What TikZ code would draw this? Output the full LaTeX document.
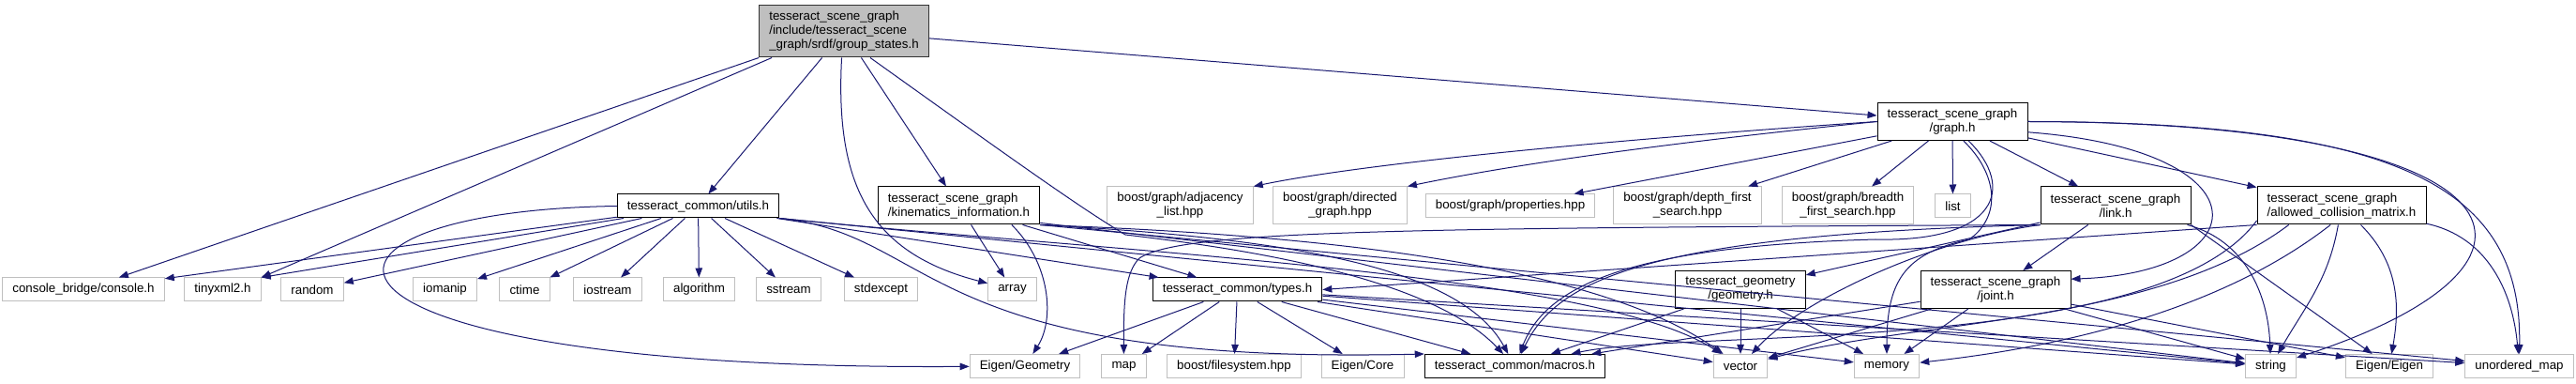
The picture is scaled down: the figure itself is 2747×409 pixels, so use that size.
\documentclass[tikz,border=0pt]{standalone}
\usepackage{fontspec}
\setmainfont{Liberation Sans}
\usepackage{xcolor}
\usetikzlibrary{arrows.meta}

\definecolor{edgeblue}{HTML}{191970}
\definecolor{grey75}{HTML}{BFBFBF}

\begin{document}
\begin{tikzpicture}[
  x=0.75pt, y=-0.75pt,
  >={Triangle[length=7.5pt,width=5.6pt]},
  box/.style={draw, line width=0.75pt, inner xsep=8pt, inner ysep=2pt,
    minimum height=18.75pt, font=\fontsize{10}{11.25}\selectfont, align=center},
  twoline/.style={minimum height=30pt},
  rootbox/.style={box, fill=grey75, draw=black!80, minimum height=41.25pt, align=left},
  incbox/.style={box, draw=black},
  extbox/.style={box, draw=grey75},
  dep/.style={->, color=edgeblue, line width=0.75pt},
]
\useasboundingbox (0,0) rectangle (2747,409);

% Root file
\node[rootbox] (groupstates) at (900,33.5)
  {tesseract\_scene\_graph\\/include/tesseract\_scene\\\_graph/srdf/group\_states.h};

% graph.h
\node[incbox, twoline] (graph) at (2082,129.5) {tesseract\_scene\_graph\\/graph.h};

% Second row
\node[incbox] (utils) at (744.5,219.5) {tesseract\_common/utils.h};
\node[incbox, twoline, align=left] (kininfo) at (1022.5,219)
  {tesseract\_scene\_graph\\/kinematics\_information.h};
\node[extbox, twoline] (adjlist) at (1258.5,219) {boost/graph/adjacency\\\_list.hpp};
\node[extbox, twoline] (dirgraph) at (1429,219) {boost/graph/directed\\\_graph.hpp};
\node[extbox] (props) at (1610.5,219.5) {boost/graph/properties.hpp};
\node[extbox, twoline] (dfsearch) at (1799.5,219) {boost/graph/depth\_first\\\_search.hpp};
\node[extbox, twoline] (bfsearch) at (1970.5,219) {boost/graph/breadth\\\_first\_search.hpp};
\node[extbox] (stdlist) at (2082.5,219.5) {list};
\node[incbox, twoline] (link) at (2256,219) {tesseract\_scene\_graph\\/link.h};
\node[incbox, twoline, align=left] (acm) at (2497,219)
  {tesseract\_scene\_graph\\/allowed\_collision\_matrix.h};

% Third row
\node[extbox] (console) at (89,308.5) {console\_bridge/console.h};
\node[extbox] (tinyxml) at (237.5,308.5) {tinyxml2.h};
\node[extbox] (stdrandom) at (333,308.5) {random};
\node[extbox] (stdiomanip) at (474.5,308.5) {iomanip};
\node[extbox] (stdctime) at (559.5,308.5) {ctime};
\node[extbox] (stdiostream) at (648,308.5) {iostream};
\node[extbox] (stdalgorithm) at (745.5,308.5) {algorithm};
\node[extbox] (stdsstream) at (841,308.5) {sstream};
\node[extbox] (stdexcept) at (939.5,308.5) {stdexcept};
\node[extbox] (stdarray) at (1079.5,308.5) {array};
\node[incbox] (types) at (1319.5,308.5) {tesseract\_common/types.h};
\node[incbox, twoline] (geometry) at (1856,308.5) {tesseract\_geometry\\/geometry.h};
\node[incbox, twoline] (joint) at (2128,308.5) {tesseract\_scene\_graph\\/joint.h};

% Bottom row
\node[extbox] (eigengeom) at (1093,390) {Eigen/Geometry};
\node[extbox] (stdmap) at (1198.5,390) {map};
\node[extbox] (filesystem) at (1316,390) {boost/filesystem.hpp};
\node[extbox] (eigencore) at (1453,390) {Eigen/Core};
\node[incbox] (macros) at (1615.5,390) {tesseract\_common/macros.h};
\node[extbox] (stdvector) at (1856,390) {vector};
\node[extbox] (stdmemory) at (2012,390) {memory};
\node[extbox] (stdstring) at (2421.5,390) {string};
\node[extbox] (eigen) at (2548,390) {Eigen/Eigen};
\node[extbox] (stdumap) at (2686.5,390) {unordered\_map};

% group_states.h includes
\draw[dep] (groupstates.south west) -- (console);
\draw[dep] (groupstates.-160) -- (tinyxml.north east);
\draw[dep] (groupstates) -- (utils);
\draw[dep] (groupstates.-95) .. controls (890,200) and (930,270) .. (stdarray);
\draw[dep] (groupstates) -- (kininfo);
\draw[dep] (groupstates.-45) .. controls (1080,170) and (1150,220) .. (1200,250)
  .. controls (1300,262) and (1520,290) .. (macros);
\draw[dep] (groupstates) -- (graph);

% utils.h includes
\draw[dep] (utils) -- (console);
\draw[dep] (utils) -- (tinyxml.north east);
\draw[dep] (utils) -- (stdrandom);
\draw[dep] (utils) -- (stdiomanip);
\draw[dep] (utils) -- (stdctime);
\draw[dep] (utils) -- (stdiostream);
\draw[dep] (utils) -- (stdalgorithm);
\draw[dep] (utils) -- (stdsstream);
\draw[dep] (utils) -- (stdexcept);
\draw[dep] (utils) -- (types);
\draw[dep] (utils.west) .. controls (280,225) and (280,395) .. (eigengeom);
\draw[dep] (utils.south east) .. controls (1000,250) and (980,390) .. (macros.north west);
\draw[dep] (utils.south east) .. controls (1200,270) and (1700,290) .. (stdvector);
\draw[dep] (utils.south east) -- (stdstring);

% kinematics_information.h includes
\draw[dep] (kininfo) -- (stdarray);
\draw[dep] (kininfo.-20) .. controls (1120,280) and (1125,340) .. (eigengeom);
\draw[dep] (kininfo) -- (types);
\draw[dep] (kininfo.south east) .. controls (1400,255) and (1560,290) .. (macros);
\draw[dep] (kininfo.south east) .. controls (1400,250) and (1700,280) .. (stdvector);
\draw[dep] (kininfo.-12) -- (stdstring);
\draw[dep] (kininfo.south east) -- (stdumap);

% graph.h includes
\draw[dep] (graph.west) .. controls (1700,150) and (1450,175) .. (adjlist.north east);
\draw[dep] (graph.west) .. controls (1750,155) and (1600,178) .. (dirgraph.north east);
\draw[dep] (graph) -- (props);
\draw[dep] (graph) -- (dfsearch);
\draw[dep] (graph) -- (bfsearch);
\draw[dep] (graph) -- (stdlist);
\draw[dep] (graph) -- (link);
\draw[dep] (graph) -- (acm);
\draw[dep] (graph.-8) .. controls (2420,160) and (2410,290) .. (joint.8);
\draw[dep] (graph.-60) .. controls (2130,185) and (2135,230) .. (2100,255)
  .. controls (2030,270) and (2012,300) .. (stdmemory);
\draw[dep] (graph.-50) .. controls (2150,200) and (2130,258) .. (2000,255)
  .. controls (1750,262) and (1650,300) .. (macros);
\draw[dep] (graph.east) .. controls (2700,130) and (2760,280) .. (stdstring);
\draw[dep] (graph.east) .. controls (2560,130) and (2690,200) .. (stdumap.north);

% link.h includes
\draw[dep] (link) -- (geometry);
\draw[dep] (link) -- (joint);
\draw[dep] (link.south west) .. controls (1750,250) and (1660,300) .. (macros);
\draw[dep] (link.south west) .. controls (2060,255) and (1920,320) .. (stdvector);
\draw[dep] (link) to[out=-15, in=92] (stdstring);
\draw[dep] (link.south east) -- (eigen);
\draw[dep] (link.south west) .. controls (1500,243) and (1260,245) .. (1215,275)
  .. controls (1200,290) and (1198,320) .. (stdmap);

% joint.h and geometry.h includes
\draw[dep] (joint) -- (macros);
\draw[dep] (joint) -- (stdvector);
\draw[dep] (joint) -- (stdmemory);
\draw[dep] (joint) -- (stdstring);
\draw[dep] (joint) -- (eigen);
\draw[dep] (geometry) -- (macros);
\draw[dep] (geometry) -- (stdvector);
\draw[dep] (geometry) -- (stdmemory);

% allowed_collision_matrix.h includes
\draw[dep] (acm.south west) -- (types.east);
\draw[dep] (acm.-170) .. controls (2300,380) and (1800,350) .. (macros);
\draw[dep] (acm.-160) .. controls (2300,345) and (2050,340) .. (stdvector);
\draw[dep] (acm.-120) .. controls (2350,345) and (2150,375) .. (stdmemory);
\draw[dep] (acm) to[out=-100, in=60] (stdstring);
\draw[dep] (acm) to[out=-45, in=80] (eigen);
\draw[dep] (acm) to[out=-12, in=95] (stdumap);

% types.h includes
\draw[dep] (types) -- (eigengeom);
\draw[dep] (types) -- (stdmap);
\draw[dep] (types) -- (filesystem);
\draw[dep] (types) -- (eigencore);
\draw[dep] (types) -- (macros);
\draw[dep] (types) -- (stdvector);
\draw[dep] (types) -- (stdmemory);
\draw[dep] (types) -- (stdstring);
\draw[dep] (types) -- (stdumap);
\end{tikzpicture}
\end{document}
